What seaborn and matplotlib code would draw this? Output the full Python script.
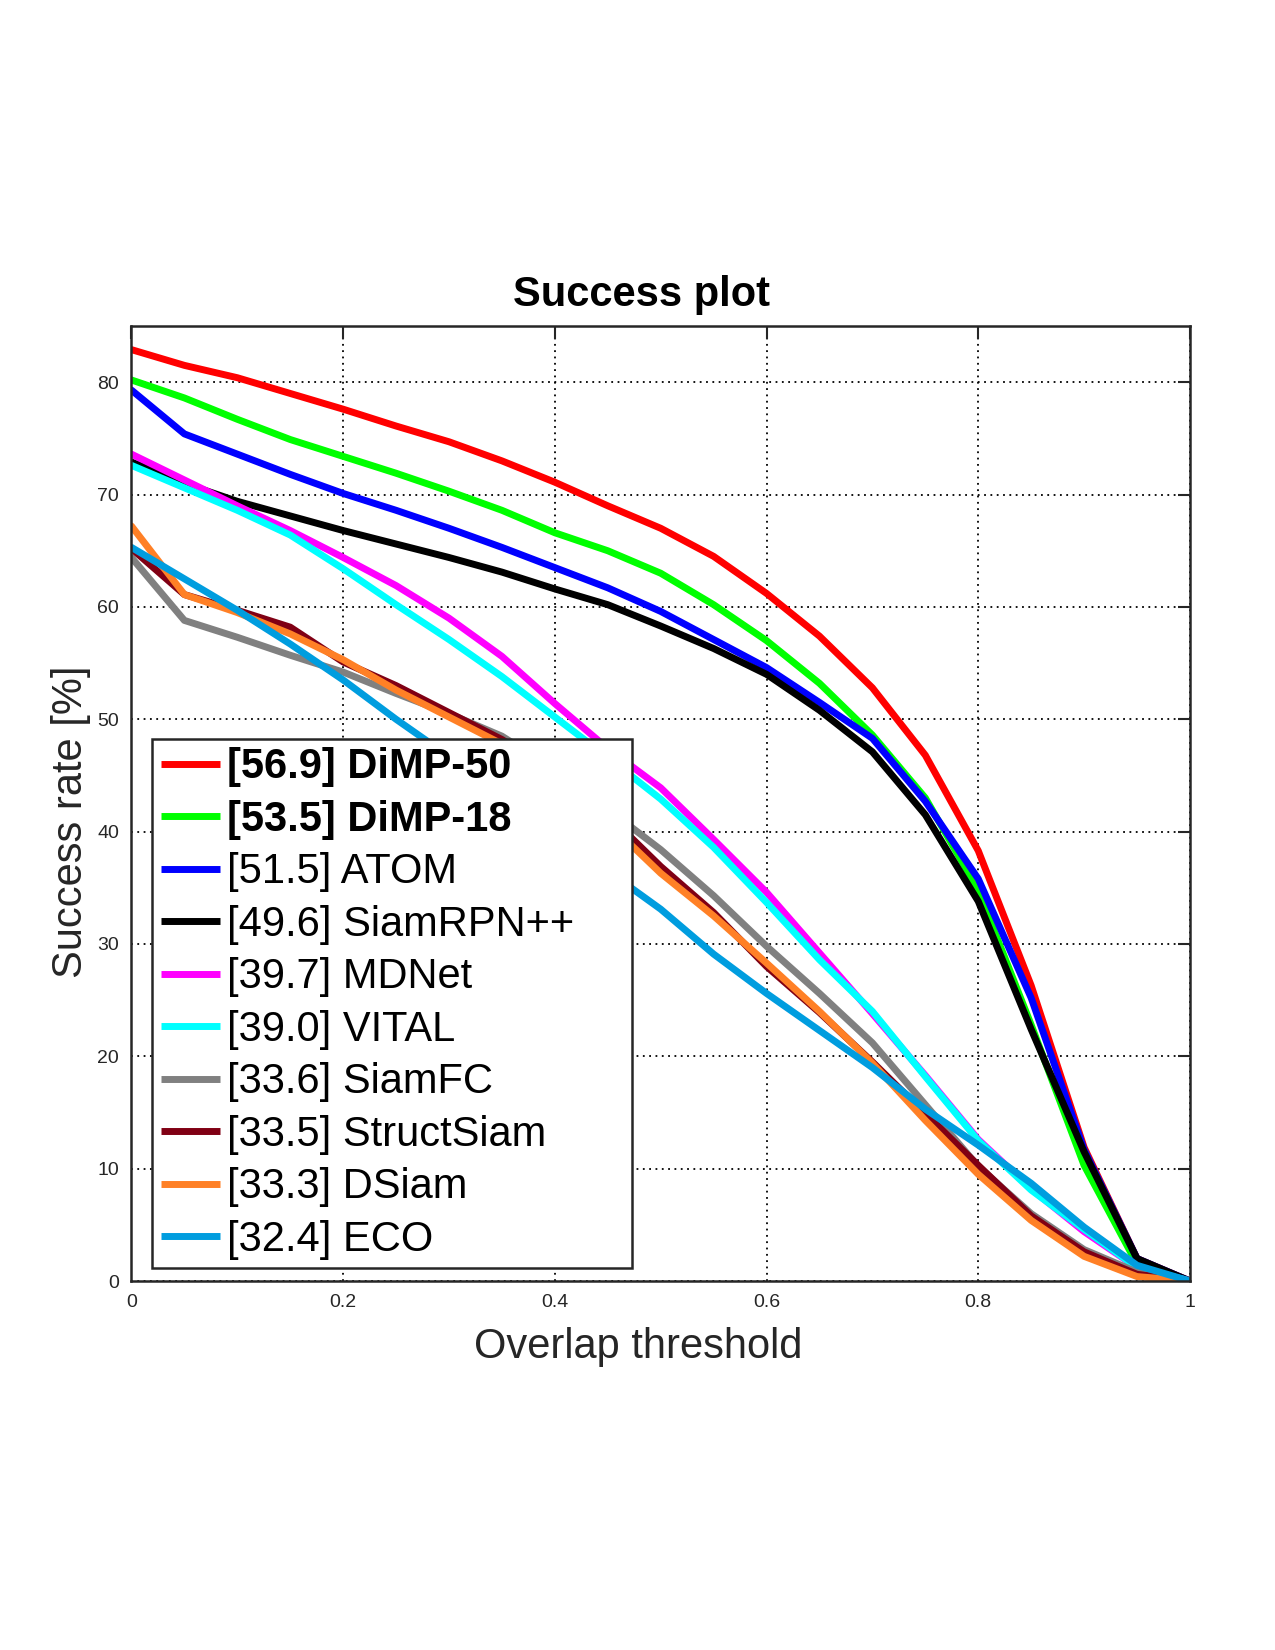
import numpy as np
import pandas as pd
import matplotlib
matplotlib.use("Agg")
import matplotlib.pyplot as plt
import seaborn as sns

# overlap thresholds
thresholds = np.round(np.arange(0, 1.0001, 0.05), 2)

trackers = ["DiMP-50", "DiMP-18", "ATOM", "SiamRPN++", "MDNet",
            "VITAL", "SiamFC", "StructSiam", "DSiam", "ECO"]
auc_scores = ["56.9", "53.5", "51.5", "49.6", "39.7",
              "39.0", "33.6", "33.5", "33.3", "32.4"]
colors = ["#ff0000", "#00ff00", "#0000ff", "#000000", "#ff00ff",
          "#00ffff", "#808080", "#800014", "#ff8026", "#009ddf"]

# success rate [%] at each threshold
dimp50 = [82.9, 81.5, 80.4, 79.0, 77.6, 76.1, 74.7, 73.0, 71.1, 69.0, 67.0,
          64.5, 61.2, 57.4, 52.8, 46.8, 38.3, 26.3, 11.9, 2.0, 0.0]
dimp18 = [80.2, 78.6, 76.7, 74.9, 73.4, 71.9, 70.3, 68.6, 66.6, 65.0, 63.0,
          60.2, 57.0, 53.2, 48.6, 43.0, 34.8, 22.8, 10.3, 1.5, 0.0]
atom = [79.3, 75.4, 73.6, 71.8, 70.1, 68.6, 67.0, 65.3, 63.5, 61.7, 59.6,
        57.1, 54.6, 51.5, 48.3, 42.7, 35.8, 25.2, 11.7, 2.0, 0.0]
siamrpnpp = [72.9, 71.0, 69.4, 68.1, 66.8, 65.6, 64.4, 63.1, 61.6, 60.2, 58.3,
             56.3, 54.0, 50.8, 47.1, 41.5, 33.8, 22.4, 11.5, 2.0, 0.0]
mdnet = [73.6, 71.3, 69.0, 66.8, 64.4, 61.9, 59.0, 55.6, 51.4, 47.4, 43.9,
         39.3, 34.6, 29.2, 23.8, 18.3, 12.6, 8.2, 4.4, 1.2, 0.0]
vital = [72.6, 70.6, 68.6, 66.4, 63.4, 60.2, 57.1, 53.8, 50.2, 46.6, 42.9,
         38.6, 33.7, 28.6, 24.0, 18.2, 12.5, 8.1, 4.6, 1.2, 0.0]
siamfc = [64.4, 58.8, 57.3, 55.7, 54.2, 52.3, 50.5, 48.5, 45.5, 42.0, 38.4,
          34.3, 29.8, 25.6, 21.2, 15.7, 10.2, 6.0, 2.8, 0.8, 0.0]
structsiam = [65.2, 61.1, 59.7, 58.2, 55.1, 53.0, 50.6, 48.2, 45.3, 41.5, 36.9,
              32.8, 28.0, 23.9, 19.5, 14.9, 10.3, 5.8, 2.6, 0.6, 0.0]
dsiam = [67.2, 61.1, 59.5, 57.6, 55.3, 52.6, 50.2, 47.8, 44.8, 40.8, 36.3,
         32.5, 28.3, 24.0, 19.4, 14.3, 9.5, 5.4, 2.2, 0.4, 0.0]
eco = [65.3, 62.5, 59.7, 56.7, 53.5, 50.0, 46.7, 43.3, 39.9, 36.5, 33.1,
       29.1, 25.6, 22.3, 19.0, 15.3, 12.1, 8.7, 4.8, 1.4, 0.0]

curves = [dimp50, dimp18, atom, siamrpnpp, mdnet,
          vital, siamfc, structsiam, dsiam, eco]

# long-form table for seaborn
labels = [f"[{s}] {n}" for s, n in zip(auc_scores, trackers)]
rows = []
for lab, vals in zip(labels, curves):
    for t, v in zip(thresholds, vals):
        rows.append({"threshold": t, "success": v, "tracker": lab})
df = pd.DataFrame(rows)

sns.set_theme(style="white")
plt.rcParams["font.family"] = ["Liberation Sans", "DejaVu Sans"]

fig = plt.figure(figsize=(12.75, 16.5), dpi=100)
ax = fig.add_axes([0.1031, 0.2236, 0.8302, 0.5788])

sns.lineplot(data=df, x="threshold", y="success", hue="tracker",
             hue_order=labels, palette=dict(zip(labels, colors)),
             linewidth=5, ax=ax, sort=False)

ax.set_xlim(0, 1)
ax.set_ylim(0, 85)
ax.set_xticks([0, 0.2, 0.4, 0.6, 0.8, 1])
ax.set_xticklabels(["0", "0.2", "0.4", "0.6", "0.8", "1"])
ax.set_yticks(np.arange(0, 81, 10))
ax.grid(True, color="black", linestyle=(0, (1, 2.5)), linewidth=1.3)
ax.tick_params(direction="in", length=9, width=1.5, top=True, right=True,
               labelsize=14, colors="#262626", pad=9)
for sp in ax.spines.values():
    sp.set_color("#262626")
    sp.set_linewidth(1.8)

# title sits centred on the figure rather than the axes
fig.text(0.503, 0.8145, "Success plot", fontsize=30, fontweight="bold",
         color="black", ha="center", va="baseline")
ax.set_xlabel("Overlap threshold", fontsize=30, color="#262626")
ax.xaxis.set_label_coords(0.479, -0.048)
ax.set_ylabel("Success rate [%]", fontsize=30, color="#262626")
ax.yaxis.set_label_coords(-0.038, 0.481)

leg = ax.legend(loc="lower left", bbox_to_anchor=(0.0198, 0.0136, 0.4527, 0.55),
                mode="expand", borderaxespad=0, fontsize=30, handlelength=1.42,
                handletextpad=0.18, labelspacing=0.3, borderpad=0.2,
                fancybox=False, framealpha=1, edgecolor="#262626")
leg.get_frame().set_linewidth(1.8)
for line in leg.get_lines():
    line.set_linewidth(5)
    line.set_solid_capstyle("butt")
for txt in leg.get_texts():
    txt.set_color("black")
for txt in leg.get_texts()[:2]:
    txt.set_fontweight("bold")

fig.savefig("out.png", dpi=100)
